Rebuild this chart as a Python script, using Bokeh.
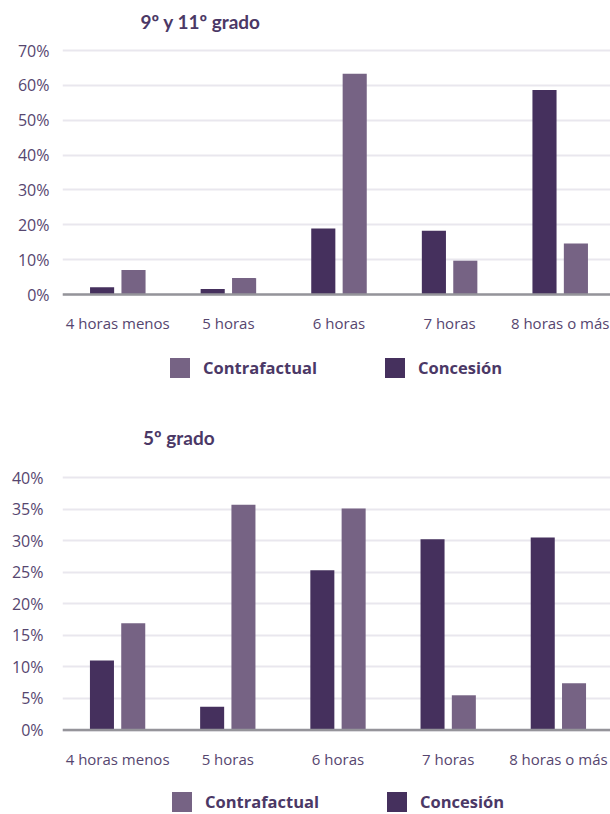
from bokeh.plotting import figure
from bokeh.models import (Range1d, FixedTicker, NumeralTickFormatter, Legend,
                          LegendItem, ColumnDataSource, Span, Label)
from bokeh.core.properties import value
from bokeh.transform import dodge
from bokeh.layouts import column
from bokeh.embed import file_html
from bokeh.resources import INLINE

# ---------------- data ----------------
categories = ["4 horas menos", "5 horas", "6 horas", "7 horas", "8 horas o más"]
series_names = ["Contrafactual", "Concesión"]

top_title = "9º y 11º grado"
top_concesion = [0.021, 0.016, 0.189, 0.183, 0.587]
top_contrafactual = [0.070, 0.047, 0.633, 0.097, 0.146]
top_yticks = [0.0, 0.1, 0.2, 0.3, 0.4, 0.5, 0.6, 0.7]

bot_title = "5º grado"
bot_concesion = [0.110, 0.037, 0.253, 0.302, 0.305]
bot_contrafactual = [0.169, 0.357, 0.351, 0.055, 0.074]
bot_yticks = [0.0, 0.05, 0.10, 0.15, 0.20, 0.25, 0.30, 0.35, 0.40]

# ---------------- style ----------------
C_CONC = "#45305d"
C_CONTRA = "#766384"
TXT = "#56466f"
TITLE_C = "#4b3866"
GRID = "#e9e7ee"
AXIS = "#95949a"
TICK_FONT = "Open Sans"
W = 610


def make_chart(title, conc, contra, yticks, height, frame_left, band_px,
               zero_y, top_y, title_x, title_base_y,
               xlabel_offset, ylabel_standoff, legend_loc):
    # frame covers the whole figure height; pixel layout -> value range
    top_val = yticks[-1]
    ppu = (zero_y - top_y) / top_val          # pixels per unit of value
    ymax = zero_y / ppu
    ymin = -(height - zero_y) / ppu
    x_end = (W - frame_left) / band_px
    pos = [i + 0.5 for i in range(len(categories))]
    src = ColumnDataSource(dict(x=pos, cat=categories, conc=conc, contra=contra,
                                zero=[0.0] * len(pos)))
    p = figure(width=W, height=height, output_backend="svg",
               toolbar_location=None, tools="", x_axis_location=None,
               x_range=Range1d(0, x_end), y_range=Range1d(ymin, ymax))
    p.min_border_left = frame_left
    p.min_border_right = 0
    p.min_border_top = 0
    p.min_border_bottom = 0
    p.outline_line_color = None
    p.background_fill_color = "white"
    p.border_fill_color = "white"

    r_conc = p.vbar(x=dodge("x", -0.142), top="conc", bottom=0, width=0.218,
                    source=src, fill_color=C_CONC, line_color=None)
    r_contra = p.vbar(x=dodge("x", 0.142), top="contra", bottom=0, width=0.218,
                      source=src, fill_color=C_CONTRA, line_color=None)

    # baseline (category axis line)
    p.add_layout(Span(location=0, dimension="width", line_color=AXIS,
                      line_width=2.5))

    # category labels
    p.text(x="x", y="zero", text="cat", source=src, y_offset=xlabel_offset,
           text_align="center", text_baseline="middle",
           text_font=value(TICK_FONT), text_font_size=value("15px"),
           text_color=TXT)

    # chart title
    p.add_layout(Label(x=(title_x - frame_left) / band_px,
                       y=(zero_y - title_base_y) / ppu,
                       text=title, text_font="Lato", text_font_size="19px",
                       text_font_style="bold", text_color=TITLE_C,
                       text_baseline="alphabetic", text_align="left"))

    p.xgrid.visible = False

    # y axis
    ya = p.yaxis[0]
    ya.ticker = FixedTicker(ticks=yticks)
    ya.formatter = NumeralTickFormatter(format="0%")
    ya.axis_line_color = None
    ya.major_tick_line_color = None
    ya.minor_tick_line_color = None
    ya.major_tick_out = 0
    ya.major_tick_in = 0
    ya.major_label_standoff = ylabel_standoff
    ya.major_label_text_font = TICK_FONT
    ya.major_label_text_font_size = "16px"
    ya.major_label_text_color = TXT
    p.ygrid.grid_line_color = GRID
    p.ygrid.grid_line_width = 2

    legend = Legend(items=[LegendItem(label=series_names[0], renderers=[r_contra]),
                           LegendItem(label=series_names[1], renderers=[r_conc])],
                    orientation="horizontal", location=legend_loc,
                    glyph_width=25, glyph_height=25, label_standoff=11,
                    spacing=65, margin=0, padding=0,
                    border_line_color=None, background_fill_alpha=0,
                    label_text_font="Open Sans", label_text_font_size="16.5px",
                    label_text_font_style="bold", label_text_color=TITLE_C)
    p.add_layout(legend, "center")
    return p


p1 = make_chart(top_title, top_concesion, top_contrafactual, top_yticks,
                height=400, frame_left=62, band_px=110.6,
                zero_y=294, top_y=50, title_x=140, title_base_y=21,
                xlabel_offset=28, ylabel_standoff=13, legend_loc=(105, 20))
p2 = make_chart(bot_title, bot_concesion, bot_contrafactual, bot_yticks,
                height=414, frame_left=59, band_px=110.8,
                zero_y=329.5, top_y=77, title_x=140, title_base_y=37,
                xlabel_offset=28.5, ylabel_standoff=19, legend_loc=(107, 0))

layout = column(p1, p2, spacing=0)
open("out.html", "w").write(file_html(layout, INLINE))
